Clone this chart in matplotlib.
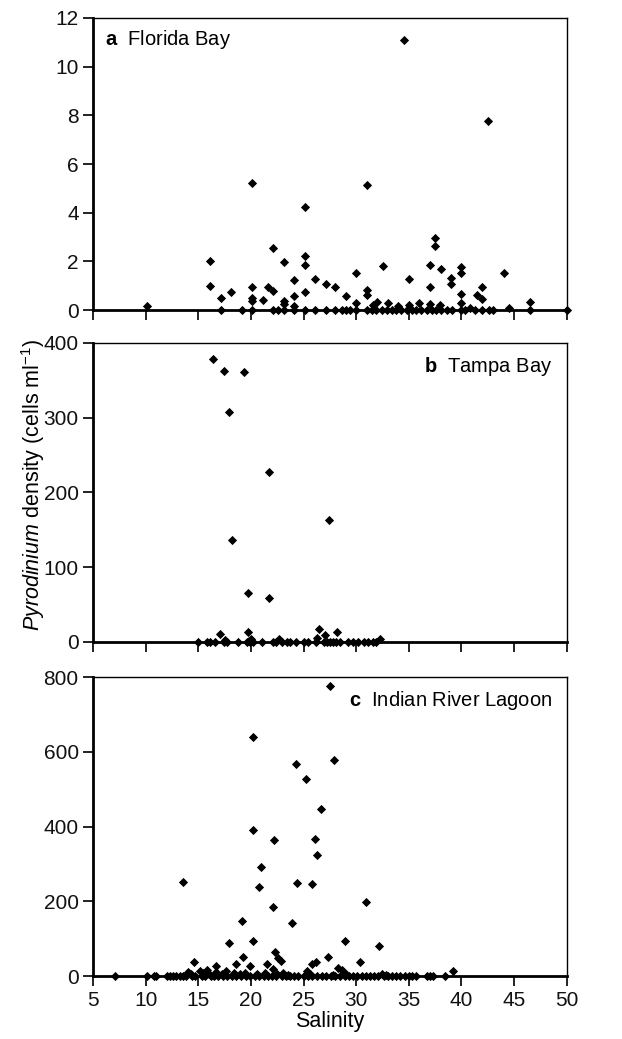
import matplotlib
matplotlib.use('Agg')
import matplotlib.pyplot as plt

plt.rcParams['font.family'] = ['Liberation Sans', 'DejaVu Sans']
plt.rcParams['mathtext.fontset'] = 'custom'
plt.rcParams['mathtext.rm'] = 'Liberation Sans'
plt.rcParams['mathtext.it'] = 'Liberation Sans:italic'
plt.rcParams['mathtext.bf'] = 'Liberation Sans:bold'

# a: Florida Bay
fl_sal = [10.1, 16.1, 16.1, 17.1, 17.1, 18.1, 19.1, 20.1, 20.1, 20.1,
          20.1, 20.1, 21.1, 21.6, 22.1, 22.1, 22.1, 22.6, 23.1, 23.1,
          23.1, 23.1, 24.1, 24.1, 24.1, 24.1, 25.1, 25.1, 25.1, 25.1,
          25.1, 26.1, 26.1, 27.1, 27.1, 28.0, 28.0, 28.6, 29.0, 29.0,
          29.4, 30.0, 30.0, 30.0, 31.0, 31.0, 31.0, 31.0, 31.5, 31.6,
          32.0, 31.9, 32.4, 32.5, 32.9, 33.0, 33.4, 33.8, 34.0, 34.3,
          34.5, 34.8, 35.0, 35.0, 35.3, 35.7, 36.0, 36.2, 36.7, 37.0,
          37.0, 37.0, 37.2, 37.5, 37.5, 37.6, 38.0, 38.1, 38.1, 38.6,
          39.0, 39.0, 39.1, 40.0, 40.0, 40.0, 40.0, 40.0, 40.3, 40.8,
          41.3, 41.5, 42.0, 42.0, 42.0, 42.5, 42.6, 43.0, 44.0, 44.5,
          46.5, 46.5, 50.0]
fl_den = [0.18, 2.02, 1.0, 0.51, 0, 0.74, 0, 5.23, 0.93, 0.51,
          0.37, 0, 0.4, 0.93, 2.54, 0.78, 0, 0, 1.96, 0.37,
          0.25, 0, 1.23, 0.56, 0.18, 0, 4.22, 2.22, 1.84, 0.73,
          0, 1.29, 0, 1.08, 0, 0.93, 0, 0, 0.58, 0,
          0, 1.51, 0.27, 0, 5.14, 0.82, 0.62, 0, 0, 0.2,
          0.34, 0, 0, 1.82, 0, 0.3, 0, 0, 0.18, 0,
          11.08, 0, 1.26, 0.2, 0, 0, 0.3, 0, 0, 1.85,
          0.93, 0.25, 0, 2.95, 2.65, 0, 0.2, 1.7, 0, 0,
          1.33, 1.08, 0, 1.78, 1.51, 0.66, 0.27, 0, 0, 0.07,
          0, 0.62, 0.93, 0.44, 0, 7.75, 0, 0, 1.51, 0.07,
          0.34, 0, 0]

# b: Tampa Bay
tb_sal = [16.4, 17.4, 19.35, 17.9, 21.7, 27.4, 18.2, 19.7, 21.7, 17.0,
          19.7, 26.5, 27.0, 28.2, 32.3, 17.5, 26.3, 22.7, 20.0, 19.8,
          15.0, 15.8, 16.1, 16.6, 17.4, 17.7, 18.8, 19.6, 19.9, 20.2,
          21.0, 22.1, 22.4, 22.9, 23.4, 23.7, 24.3, 25.0, 25.4, 26.2,
          26.9, 27.2, 27.5, 27.8, 28.1, 28.5, 29.2, 29.7, 30.2, 30.7,
          31.1, 31.6, 31.9]
tb_den = [379, 362, 361, 308, 228, 163, 136, 66, 59, 11,
          13, 17, 10, 13, 4.5, 3, 5, 4, 4, 2,
          0, 0, 0, 0, 0, 0, 0, 0, 0, 0,
          0, 0, 0, 0, 0, 0, 0, 0, 0, 0,
          0, 0, 0, 0, 0, 0, 0, 0, 0, 0,
          0, 0, 0]

# c: Indian River Lagoon
ir_sal = [27.5, 20.2, 27.9, 24.3, 25.2, 26.6, 20.2, 22.2, 26.1, 26.3,
          20.9, 13.5, 20.75, 24.4, 25.8, 30.9, 22.1, 19.1, 23.9, 17.9,
          20.2, 28.9, 32.2, 19.2, 22.3, 22.6, 22.8, 27.3, 14.6, 30.4,
          26.2, 25.75, 21.5, 18.6, 19.9, 16.7, 28.3, 28.6, 39.2, 14.0,
          15.1, 15.8, 17.6, 25.3, 22.1,
          14.3, 15.4, 16.0, 16.7, 17.2, 18.4, 18.9, 19.4, 20.6, 21.3,
          22.5, 23.0, 23.5, 25.6, 27.8, 29.0, 32.4, 32.8,
          7.1, 10.1, 10.8, 11.0, 12.0, 12.3, 12.6, 12.9, 13.2, 13.5,
          13.8, 14.4, 14.7, 15.3, 15.6, 16.2, 16.5, 16.9, 17.3, 17.7,
          18.2, 18.6, 19.0, 19.5, 19.9, 20.4, 20.8, 21.2, 21.6, 22.0,
          22.4, 22.9, 23.3, 23.7, 24.1, 24.5, 25.0, 25.4, 25.8, 26.3,
          26.7, 27.1, 27.6, 28.0, 28.5, 28.9, 29.3, 29.7, 30.1, 30.5,
          30.9, 31.3, 31.7, 32.1, 32.6, 33.0, 33.4, 33.8, 34.2, 34.6,
          35.0, 35.3, 35.7, 36.7, 37.0, 37.3, 38.4]
ir_den = [777, 640, 579, 566, 528, 446, 391, 364, 366, 325,
          293, 252, 239, 249, 246, 198, 186, 148, 143, 88,
          95, 95, 80, 52, 65, 47, 41, 52, 37, 38,
          37, 32, 32, 32, 28, 28, 22, 16, 14, 12,
          14, 16, 13, 14, 20,
          6, 8, 5, 10, 6, 9, 6, 8, 5, 7,
          6, 9, 4, 6, 4, 5, 6, 4,
          0, 0, 0, 0, 0, 0, 0, 0, 0, 0,
          0, 0, 0, 0, 0, 0, 0, 0, 0, 0,
          0, 0, 0, 0, 0, 0, 0, 0, 0, 0,
          0, 0, 0, 0, 0, 0, 0, 0, 0, 0,
          0, 0, 0, 0, 0, 0, 0, 0, 0, 0,
          0, 0, 0, 0, 0, 0, 0, 0, 0, 0,
          0, 0, 0, 0, 0, 0, 0]

x_ticks = [5, 10, 15, 20, 25, 30, 35, 40, 45, 50]

panels = [
    (fl_sal, fl_den, [0, 2, 4, 6, 8, 10, 12], r'$\bf{a}$  Florida Bay', 'left',
     [0.150, 0.7016, 0.761, 0.2811]),
    (tb_sal, tb_den, [0, 100, 200, 300, 400], r'$\bf{b}$  Tampa Bay', 'right',
     [0.150, 0.3821, 0.761, 0.2878]),
    (ir_sal, ir_den, [0, 200, 400, 600, 800], r'$\bf{c}$  Indian River Lagoon', 'right',
     [0.150, 0.0606, 0.761, 0.2878]),
]

fig = plt.figure(figsize=(6.22, 10.39), dpi=100)

for i, (xs, ys, yt, label, ha, pos) in enumerate(panels):
    ax = fig.add_axes(pos)
    ax.scatter(xs, ys, marker='D', s=22, color='black', linewidths=0,
               clip_on=False, zorder=3)
    ax.set_xlim(5, 50)
    ax.set_ylim(yt[0], yt[-1])
    ax.set_xticks(x_ticks)
    ax.set_yticks(yt)
    ax.tick_params(direction='out', length=7, width=1.3, labelsize=15,
                   colors='#111111')
    ax.spines['left'].set_linewidth(2)
    ax.spines['bottom'].set_linewidth(2)
    ax.spines['top'].set_linewidth(1)
    ax.spines['right'].set_linewidth(1)
    if i < 2:
        ax.tick_params(labelbottom=False)
    else:
        ax.set_xlabel('Salinity', fontsize=15.5, labelpad=1)
    if ha == 'left':
        ax.text(0.025, 0.925, label, transform=ax.transAxes, ha='left',
                va='center', fontsize=14.5)
    else:
        ax.text(0.97, 0.92, label, transform=ax.transAxes, ha='right',
                va='center', fontsize=14.5)

fig.text(0.053, 0.533, r'$\it{Pyrodinium}$ density (cells ml$^{-1}$)',
         rotation=90, ha='center', va='center', fontsize=15.5)

fig.savefig('out.png', dpi=100)
